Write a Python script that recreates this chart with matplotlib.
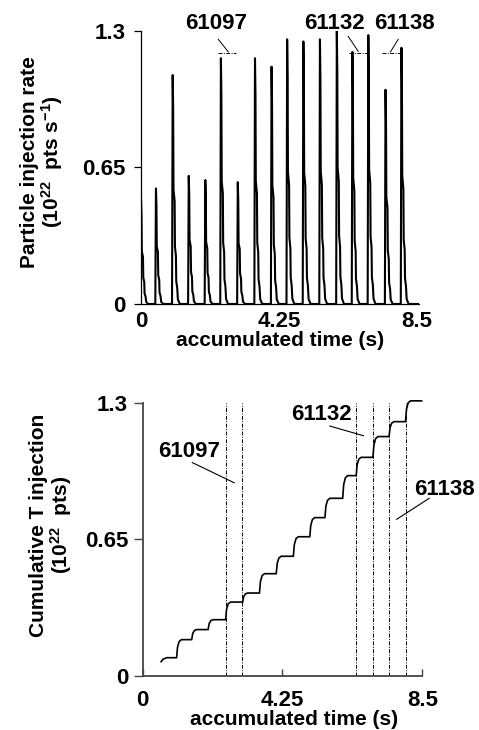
import numpy as np
import matplotlib
matplotlib.use('Agg')
import matplotlib.pyplot as plt

plt.rcParams['font.family'] = ['Liberation Sans', 'DejaVu Sans']
plt.rcParams['font.weight'] = 'bold'
plt.rcParams['mathtext.fontset'] = 'custom'
plt.rcParams['mathtext.rm'] = 'Liberation Sans:bold'
plt.rcParams['mathtext.bf'] = 'Liberation Sans:bold'
plt.rcParams['mathtext.default'] = 'bf'

# pulse start times (s) and peak injection rates (1e22 pts/s)
pulse_start = [-0.02, 0.44, 0.955, 1.45, 1.96, 2.44, 2.96, 3.49, 4.00, 4.48, 4.98,
               5.49, 6.01, 6.49, 6.98, 7.51, 8.00]
pulse_peak = [0.50, 0.55, 1.09, 0.61, 0.59, 1.17, 0.58, 1.17, 1.13, 1.26, 1.25,
              1.26, 1.30, 1.20, 1.28, 1.02, 1.22]
# pulse shape (time offset, fraction of peak)
pulse_dt = [0.00, 0.02, 0.035, 0.045, 0.08, 0.09, 0.12, 0.13, 0.16, 0.18, 0.24]
pulse_frac = [0.0, 1.0, 0.85, 0.50, 0.45, 0.25, 0.21, 0.10, 0.07, 0.02, 0.0]

# cumulative injection: step times and level after each step (1e22 pts)
cum_start = [0.56, 0.62, 0.73]
cum_start_val = [0.068, 0.080, 0.087]
step_t = [1.03, 1.49, 1.99, 2.52, 3.04, 3.55, 4.06, 4.58, 5.08, 5.54, 6.08,
          6.49, 7.00, 7.49, 7.99]
step_level = [0.173, 0.221, 0.268, 0.352, 0.395, 0.487, 0.570, 0.663, 0.754,
              0.846, 0.954, 1.041, 1.140, 1.211, 1.31]
rise_dt = [0.0, 0.03, 0.08, 0.15]
rise_frac = [0.0, 0.6, 0.9, 1.0]
cum_end = 8.48

shot_lines = [2.52, 3.03, 6.49, 7.00, 7.49, 8.00]

ticks_x = [0, 4.25, 8.5]
ticks_y = [0, 0.65, 1.3]
tick_xlab = ['0', '4.25', '8.5']
tick_ylab = ['0', '0.65', '1.3']

# build traces
rate_t, rate_v = [], []
for s, p in zip(pulse_start, pulse_peak):
    for d, f in zip(pulse_dt, pulse_frac):
        rate_t.append(s + d)
        rate_v.append(p * f)
rate_t.append(8.55)
rate_v.append(0.0)

cum_t = list(cum_start)
cum_v = list(cum_start_val)
prev = cum_start_val[-1]
for t0, lev in zip(step_t, step_level):
    for d, f in zip(rise_dt, rise_frac):
        cum_t.append(t0 + d)
        cum_v.append(prev + (lev - prev) * f)
    prev = lev
cum_t.append(cum_end)
cum_v.append(prev)

fig = plt.figure(figsize=(4.79, 7.30), dpi=100)
fs = 16    # ticks, annotations
lfs = 15   # axis labels
dash = (0, (4, 1.5, 1, 1.5))

# top panel
ax1 = fig.add_axes([0.2944, 0.5836, 0.5796, 0.374])
ax1.plot(rate_t, rate_v, color='black', lw=1.5)
ax1.set_xlim(0, 8.55)
ax1.set_ylim(0, 1.3)
ax1.spines['top'].set_visible(False)
ax1.spines['right'].set_visible(False)
ax1.spines['left'].set_linewidth(0.9)
ax1.spines['bottom'].set_linewidth(0.9)
ax1.set_xticks(ticks_x, tick_xlab)
ax1.set_yticks(ticks_y, tick_ylab)
ax1.tick_params(axis='x', length=0, pad=5, labelsize=fs)
ax1.tick_params(axis='y', length=5, width=0.9, pad=6, labelsize=fs)
ax1.set_xlabel('accumulated time (s)', fontsize=lfs, fontweight='bold')
ax1.xaxis.set_label_coords(0.5, -0.1)
ax1.set_ylabel('Particle injection rate\n(10$^{22}$  pts s$^{-1}$)', fontsize=lfs,
               fontweight='bold', linespacing=1.0)
ax1.yaxis.set_label_coords(-0.274, 0.521)

top_labels = ['61097', '61132', '61138']
top_lab_x = [2.31, 5.97, 8.12]
top_dash_x0 = [2.38, 6.41, 7.41]
top_dash_x1 = [2.92, 6.96, 7.97]
top_lead = [(2.38, 1.26, 2.69, 1.20), (6.38, 1.274, 6.69, 1.203), (7.92, 1.26, 7.68, 1.20)]
for lab, x, a, b, ld in zip(top_labels, top_lab_x, top_dash_x0, top_dash_x1, top_lead):
    ax1.text(x, 1.335, lab, ha='center', va='center', fontsize=fs, clip_on=False)
    ax1.plot([a, b], [1.197, 1.197], color='black', lw=0.7, ls=dash, clip_on=False)
    ax1.plot([ld[0], ld[2]], [ld[1], ld[3]], color='black', lw=0.7, clip_on=False)

# bottom panel
ax2 = fig.add_axes([0.2979, 0.074, 0.5837, 0.374])
ax2.plot(cum_t, cum_v, color='black', lw=1.2, clip_on=False)
for x in shot_lines:
    ax2.plot([x, x], [0, 1.3], color='black', lw=0.7, ls=dash)
ax2.set_xlim(0, 8.5)
ax2.set_ylim(0, 1.3)
ax2.spines['top'].set_visible(False)
ax2.spines['right'].set_visible(False)
ax2.spines['left'].set_color('#444444')
ax2.spines['bottom'].set_color('#444444')
ax2.spines['left'].set_linewidth(1.3)
ax2.spines['bottom'].set_linewidth(1.3)
ax2.set_xticks(ticks_x, tick_xlab)
ax2.set_yticks(ticks_y, tick_ylab)
ax2.tick_params(axis='x', direction='in', length=5, width=1.0, color='#444444',
                pad=10, labelsize=fs)
ax2.tick_params(axis='y', length=6.5, width=1.0, color='#444444', pad=4, labelsize=fs)
ax2.set_xlabel('accumulated time (s)', fontsize=lfs, fontweight='bold')
ax2.xaxis.set_label_coords(0.54, -0.125)
ax2.set_ylabel('Cumulative T injection\n(10$^{22}$  pts)', fontsize=lfs,
               fontweight='bold', linespacing=1.0)
ax2.yaxis.set_label_coords(-0.247, 0.553)

bot_labels = ['61097', '61132', '61138']
bot_lab_xy = [(1.41, 1.068), (5.42, 1.244), (9.16, 0.886)]
bot_lead = [(1.51, 1.016, 2.78, 0.92), (5.69, 1.19, 6.71, 1.144), (8.71, 0.846, 7.72, 0.746)]
for lab, xy, ld in zip(bot_labels, bot_lab_xy, bot_lead):
    ax2.text(xy[0], xy[1], lab, ha='center', va='center', fontsize=fs, clip_on=False)
    ax2.plot([ld[0], ld[2]], [ld[1], ld[3]], color='black', lw=0.8, clip_on=False)

fig.savefig('out.png', dpi=100)
